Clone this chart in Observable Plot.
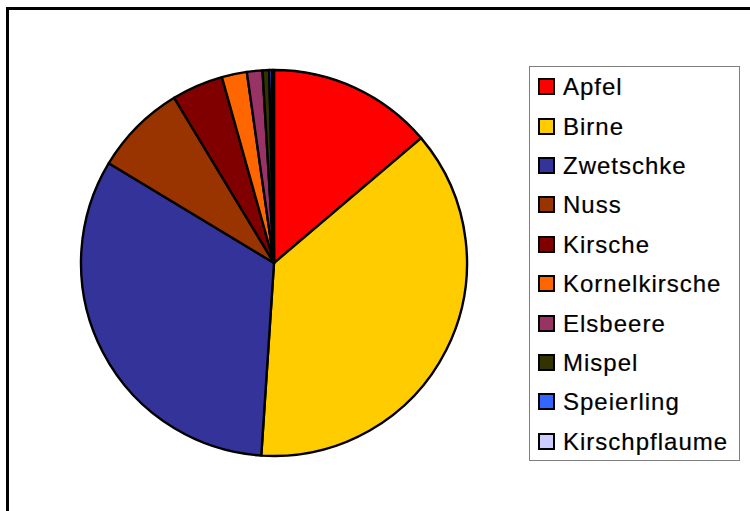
<!DOCTYPE html>
<html>
<head>
<meta charset="utf-8">
<script src="https://cdn.jsdelivr.net/npm/d3@7"></script>
<script src="https://cdn.jsdelivr.net/npm/@observablehq/plot@0.6"></script>
<style>
  html, body { margin: 0; padding: 0; background: #fff; }
  body { width: 750px; height: 511px; position: relative; overflow: hidden; font-family: "Liberation Sans", Arial, sans-serif; }
  #frame { position: absolute; left: 6px; top: 7px; width: 800px; height: 600px; border-left: 3px solid #000; border-top: 3px solid #000; }
  #pie { position: absolute; left: 74px; top: 63px; }
  #legend { position: absolute; left: 529px; top: 66px; width: 209px; height: 393px; border: 1px solid #7f7f7f; background: #fff; }
  .row { position: absolute; left: 0; height: 26px; display: flex; align-items: center; }
  .sw { position: absolute; left: 8px; width: 17px; height: 17px; box-sizing: border-box; border: 2px solid #000; }
  .lab { position: absolute; left: 33px; font-size: 24px; letter-spacing: 1px; color: #000; white-space: nowrap; line-height: 26px; top: 0.6px; -webkit-text-stroke: 0.2px #000; }
</style>
</head>
<body>
<div id="frame"></div>
<div id="pie"></div>
<div id="legend"></div>
<script>
const categories = ["Apfel", "Birne", "Zwetschke", "Nuss", "Kirsche", "Kornelkirsche", "Elsbeere", "Mispel", "Speierling", "Kirschpflaume"];
const values = [13.8, 37.25, 32.6, 7.7, 4.3, 2.1, 1.3, 0.55, 0.25, 0.15];
const colors = ["#FF0000", "#FFCC00", "#333399", "#993300", "#800000", "#FF6600", "#993366", "#333300", "#3366FF", "#CCCCFF"];

const data = categories.map((name, i) => ({name, value: values[i]}));
const arcs = d3.pie().sort(null).value(d => d.value)(data);

const pieMark = (index, scales, channels, dimensions) => {
  const g = d3.create("svg:g");
  const sx = scales.x, sy = scales.y;
  const cx = sx(0), cy = sy(0);
  const r = sx(1) - sx(0);
  const color = scales.color;
  const arcGen = d3.arc().innerRadius(0).outerRadius(r);
  g.attr("transform", `translate(${cx},${cy})`);
  g.selectAll("path").data(arcs).join("path")
    .attr("d", arcGen)
    .attr("fill", d => color(d.data.name))
    .attr("stroke", "#000")
    .attr("stroke-width", 2.4)
    .attr("stroke-linejoin", "round");
  return g.node();
};

const plot = Plot.plot({
  width: 400,
  height: 400,
  margin: 7,
  x: {domain: [-1, 1], axis: null},
  y: {domain: [-1, 1], axis: null},
  color: {domain: categories, range: colors},
  marks: [
    Plot.dot([{x: -1, y: -1, n: categories[0]}, {x: 1, y: 1, n: categories[1]}], {x: "x", y: "y", fill: "n", r: 0, stroke: null}),
    pieMark
  ]
});
document.getElementById("pie").appendChild(plot);

const colorScale = plot.scale("color");
const legend = d3.select("#legend");
const rows = legend.selectAll(".row").data(categories).join("div")
  .attr("class", "row")
  .style("top", (d, i) => (86.6 + i * 39.4 - 66 - 1 - 13) + "px");
rows.append("div").attr("class", "sw").style("top", "4.5px")
  .style("background", d => colorScale.apply(d));
rows.append("div").attr("class", "lab").text(d => d);
</script>
</body>
</html>
